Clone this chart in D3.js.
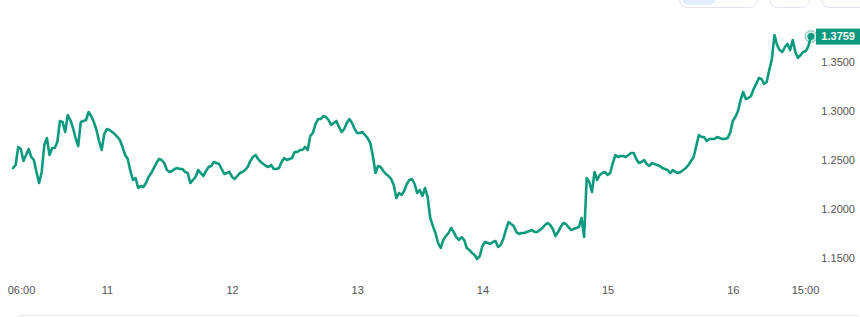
<!DOCTYPE html>
<html>
<head>
<meta charset="utf-8">
<script src="https://cdn.jsdelivr.net/npm/d3@7"></script>
<style>
  body { margin: 0; background: #fff; }
  svg { display: block; font-family: Arial, "Liberation Sans", sans-serif; }
</style>
</head>
<body>
<svg id="chart" width="860" height="317"></svg>
<script>
// half-hourly closes, from 10th 06:00 to 16th 15:00
const startTime = new Date(2024, 5, 10, 6, 0);
const stepMinutes = 30;
const prices = [
  1.2418, 1.2449, 1.2633, 1.2612, 1.2490, 1.2551, 1.2612, 1.2531, 1.2500, 1.2378,
  1.2265, 1.2378, 1.2653, 1.2724, 1.2551, 1.2622, 1.2622, 1.2684, 1.2898, 1.2888,
  1.2786, 1.2959, 1.2908, 1.2827, 1.2724, 1.2643, 1.2888, 1.2898, 1.2908, 1.2990,
  1.2949, 1.2888, 1.2806, 1.2694, 1.2602, 1.2765, 1.2816, 1.2806, 1.2786, 1.2765,
  1.2735, 1.2704, 1.2633, 1.2551, 1.2510, 1.2388, 1.2296, 1.2316, 1.2214, 1.2235,
  1.2224, 1.2265, 1.2327, 1.2367, 1.2418, 1.2469, 1.2510, 1.2500, 1.2469, 1.2398,
  1.2378, 1.2388, 1.2408, 1.2418, 1.2408, 1.2408, 1.2378, 1.2367, 1.2265, 1.2296,
  1.2327, 1.2398, 1.2367, 1.2337, 1.2388, 1.2429, 1.2439, 1.2480, 1.2469, 1.2459,
  1.2408, 1.2357, 1.2367, 1.2378, 1.2327, 1.2306, 1.2337, 1.2367, 1.2378, 1.2398,
  1.2429, 1.2490, 1.2531, 1.2551, 1.2510, 1.2480, 1.2459, 1.2439, 1.2429, 1.2449,
  1.2408, 1.2408, 1.2418, 1.2480, 1.2520, 1.2500, 1.2510, 1.2520, 1.2582, 1.2582,
  1.2602, 1.2602, 1.2633, 1.2602, 1.2745, 1.2776, 1.2867, 1.2918, 1.2918, 1.2949,
  1.2939, 1.2908, 1.2857, 1.2878, 1.2898, 1.2837, 1.2786, 1.2816, 1.2878, 1.2918,
  1.2878, 1.2816, 1.2776, 1.2776, 1.2786, 1.2755, 1.2724, 1.2673, 1.2541, 1.2367,
  1.2439, 1.2429, 1.2388, 1.2357, 1.2337, 1.2306, 1.2245, 1.2112, 1.2163, 1.2143,
  1.2184, 1.2255, 1.2296, 1.2306, 1.2255, 1.2163, 1.2194, 1.2133, 1.2214, 1.2122,
  1.1908, 1.1827, 1.1755, 1.1653, 1.1602, 1.1684, 1.1724, 1.1755, 1.1806, 1.1765,
  1.1714, 1.1684, 1.1714, 1.1684, 1.1602, 1.1582, 1.1551, 1.1531, 1.1490, 1.1520,
  1.1622, 1.1663, 1.1653, 1.1643, 1.1663, 1.1673, 1.1612, 1.1633, 1.1694, 1.1786,
  1.1867, 1.1847, 1.1827, 1.1765, 1.1745, 1.1755, 1.1755, 1.1765, 1.1776, 1.1786,
  1.1765, 1.1765, 1.1786, 1.1806, 1.1837, 1.1857, 1.1837, 1.1796, 1.1724, 1.1765,
  1.1816, 1.1857, 1.1847, 1.1816, 1.1786, 1.1796, 1.1806, 1.1816, 1.1908, 1.1714,
  1.2316, 1.2276, 1.2173, 1.2378, 1.2296, 1.2347, 1.2367, 1.2378, 1.2347, 1.2367,
  1.2469, 1.2551, 1.2531, 1.2541, 1.2541, 1.2531, 1.2551, 1.2571, 1.2571, 1.2510,
  1.2469, 1.2480, 1.2500, 1.2459, 1.2439, 1.2469, 1.2459, 1.2449, 1.2439, 1.2418,
  1.2408, 1.2398, 1.2367, 1.2398, 1.2378, 1.2367, 1.2378, 1.2398, 1.2418, 1.2449,
  1.2490, 1.2531, 1.2643, 1.2755, 1.2735, 1.2735, 1.2694, 1.2714, 1.2714, 1.2714,
  1.2735, 1.2724, 1.2714, 1.2714, 1.2724, 1.2776, 1.2898, 1.2939, 1.3000, 1.3112,
  1.3194, 1.3122, 1.3133, 1.3153, 1.3224, 1.3276, 1.3337, 1.3327, 1.3276, 1.3296,
  1.3418, 1.3531, 1.3776, 1.3673, 1.3622, 1.3602, 1.3653, 1.3684, 1.3622, 1.3724,
  1.3602, 1.3541, 1.3571, 1.3602, 1.3612, 1.3663, 1.3759
];
const yTicks = [1.15, 1.20, 1.25, 1.30, 1.35];
const xTicks = [
  new Date(2024, 5, 10, 6), new Date(2024, 5, 11), new Date(2024, 5, 12),
  new Date(2024, 5, 13), new Date(2024, 5, 14), new Date(2024, 5, 15),
  new Date(2024, 5, 16), new Date(2024, 5, 16, 15)
];
const xLabels = ["06:00", "11", "12", "13", "14", "15", "16", "15:00"];

const green = "#0b9a7d";
const svg = d3.select("#chart");

const data = prices.map((p, i) => ({
  t: new Date(startTime.getTime() + i * stepMinutes * 60e3),
  v: p
}));

const x = d3.scaleTime()
  .domain([data[0].t, data[data.length - 1].t])
  .range([13, 811]);
const y = d3.scaleLinear().domain([1.15, 1.35]).range([258, 62]);

// top toolbar buttons (cut off by the frame)
const btns = svg.append("g");
btns.append("rect").attr("x", 679.5).attr("y", -12).attr("width", 78).attr("height", 19.5)
  .attr("rx", 8).attr("fill", "#fff").attr("stroke", "#e2e2ee");
btns.append("rect").attr("x", 682).attr("y", -12).attr("width", 34).attr("height", 17)
  .attr("rx", 7).attr("fill", "#e2eefc");
btns.append("rect").attr("x", 769.5).attr("y", -12).attr("width", 40).attr("height", 19.5)
  .attr("rx", 8).attr("fill", "#fff").attr("stroke", "#e2e2ee");
btns.append("rect").attr("x", 821.5).attr("y", -12).attr("width", 50).attr("height", 19.5)
  .attr("rx", 8).attr("fill", "#fff").attr("stroke", "#e2e2ee");

// y axis on the right
const yAxis = svg.append("g")
  .attr("transform", "translate(855,0)")
  .call(d3.axisRight(y).tickValues(yTicks).tickFormat(d3.format(".4f")).tickSize(0).tickPadding(0));
yAxis.select(".domain").remove();
yAxis.selectAll("text")
  .attr("text-anchor", "end")
  .attr("fill", "#555")
  .style("font-size", "11px");

// x axis
const xAxis = svg.append("g")
  .attr("transform", "translate(0,286)")
  .call(d3.axisBottom(x).tickValues(xTicks).tickFormat((d, i) => xLabels[i]).tickSize(0).tickPadding(0));
xAxis.select(".domain").remove();
xAxis.selectAll("text")
  .attr("fill", "#555")
  .style("font-size", "11px");
xAxis.selectAll(".tick").filter((d, i) => i === 0).select("text").attr("dx", 8);
xAxis.selectAll(".tick").filter((d, i) => i === xTicks.length - 1).select("text").attr("dx", -6);

// price line
const line = d3.line()
  .x(d => x(d.t))
  .y(d => y(d.v));

svg.append("path")
  .datum(data)
  .attr("fill", "none")
  .attr("stroke", green)
  .attr("stroke-width", 2.6)
  .attr("stroke-linejoin", "round")
  .attr("stroke-linecap", "round")
  .attr("d", line);

// last value marker
const last = data[data.length - 1];
svg.append("circle")
  .attr("cx", x(last.t)).attr("cy", y(last.v)).attr("r", 6)
  .attr("fill", green).attr("fill-opacity", 0.2)
  .attr("stroke", green).attr("stroke-opacity", 0.45);
svg.append("circle")
  .attr("cx", x(last.t)).attr("cy", y(last.v)).attr("r", 3.5)
  .attr("fill", green);

const tag = svg.append("g").attr("transform", "translate(816," + y(last.v) + ")");
tag.append("rect").attr("x", 0).attr("y", -8).attr("width", 44).attr("height", 16).attr("fill", green);
tag.append("text")
  .attr("x", 39).attr("y", 0).attr("dy", "0.35em")
  .attr("text-anchor", "end")
  .attr("fill", "#fff")
  .style("font-size", "11px")
  .style("font-weight", "bold")
  .text(last.v.toFixed(4));

// bottom frame edge
svg.append("path")
  .attr("d", "M15,322 Q15,315.5 22,315.5 L858,315.5")
  .attr("fill", "none")
  .attr("stroke", "#e4e4e4");
</script>
</body>
</html>
